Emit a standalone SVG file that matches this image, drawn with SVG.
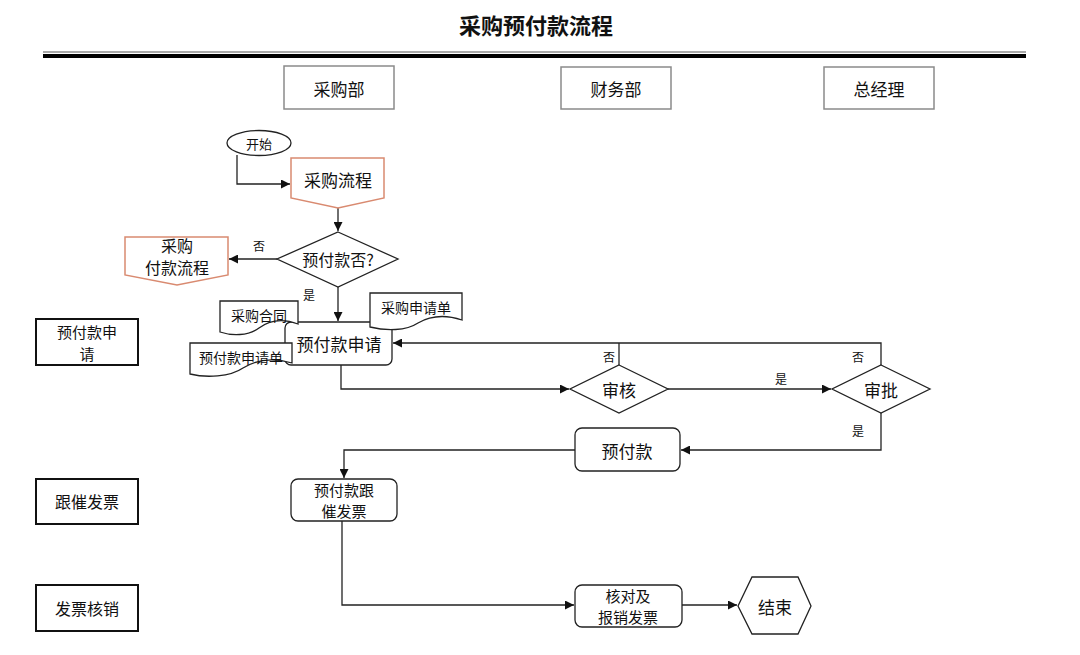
<svg xmlns="http://www.w3.org/2000/svg" width="1080" height="655" viewBox="0 0 1080 655">
<style>
text{font-family:"Noto Sans CJK SC","Noto Sans",sans-serif;fill:#111;text-anchor:middle;dominant-baseline:central}
.hdr{fill:#fff;stroke:#8a8a8a;stroke-width:1.5}
.lane{fill:#fff;stroke:#111;stroke-width:2}
.shp{fill:#fff;stroke:#222;stroke-width:1.3}
.org{fill:#fff;stroke:#d98a70;stroke-width:1.5}
.con{fill:none;stroke:#222;stroke-width:1.3}
.t17{font-size:17px}
.t16{font-size:16px}
.t15{font-size:15px}
.t14{font-size:14px}
.t13{font-size:13px}
.lbl{font-size:12px}
</style>
<defs>
<marker id="ah" viewBox="0 0 10 10" refX="10" refY="5" markerWidth="9" markerHeight="9" markerUnits="userSpaceOnUse" orient="auto">
<path d="M0,0 L10,5 L0,10 Z" fill="#111"/>
</marker>
</defs>
<rect width="1080" height="655" fill="#fff"/>
<g id="title">
<text x="536" y="24" style="font-size:22px;font-weight:bold">采购预付款流程</text>
<line x1="43" y1="52" x2="1026" y2="52" stroke="#555" stroke-width="1.2"/>
<line x1="43" y1="56" x2="1026" y2="56" stroke="#000" stroke-width="4"/>
</g>
<g id="hdr-caigou"><rect class="hdr" x="284" y="66" width="110" height="43"/><text class="t17" x="339" y="88">采购部</text></g>
<g id="hdr-caiwu"><rect class="hdr" x="561" y="67" width="110" height="42"/><text class="t17" x="616" y="88">财务部</text></g>
<g id="hdr-zjl"><rect class="hdr" x="824" y="67" width="110" height="42"/><text class="t17" x="879" y="88">总经理</text></g>
<g id="lane1"><rect class="lane" x="36" y="319" width="102" height="46"/><text class="t15" x="87" y="331">预付款申</text><text class="t15" x="87" y="353">请</text></g>
<g id="lane2"><rect class="lane" x="36" y="479" width="102" height="45"/><text class="t16" x="87" y="501">跟催发票</text></g>
<g id="lane3"><rect class="lane" x="36" y="585" width="102" height="46"/><text class="t16" x="87" y="608">发票核销</text></g>
<g id="connectors">
<path class="con" d="M237,155 V184 H290" marker-end="url(#ah)"/>
<path class="con" d="M338,208 V231" marker-end="url(#ah)"/>
<path class="con" d="M277,259 H229" marker-end="url(#ah)"/>
<path class="con" d="M338,287 V321" marker-end="url(#ah)"/>
<path class="con" d="M341,365 V389 H569" marker-end="url(#ah)"/>
<path class="con" d="M668,389 H831" marker-end="url(#ah)"/>
<path class="con" d="M619,365 V343"/>
<path class="con" d="M881,365 V343 H393" marker-end="url(#ah)"/>
<path class="con" d="M881,413 V450 H681" marker-end="url(#ah)"/>
<path class="con" d="M575,450 H344 V478" marker-end="url(#ah)"/>
<path class="con" d="M342,521 V605 H574" marker-end="url(#ah)"/>
<path class="con" d="M682,605 H737" marker-end="url(#ah)"/>
<text class="lbl" x="259" y="245">否</text>
<text class="lbl" x="309" y="294">是</text>
<text class="lbl" x="609" y="356">否</text>
<text class="lbl" x="858" y="356">否</text>
<text class="lbl" x="781" y="378">是</text>
<text class="lbl" x="858" y="430">是</text>
</g>
<g id="start"><ellipse class="shp" cx="259" cy="143" rx="32" ry="12.5"/><text class="t13" x="259" y="143">开始</text></g>
<g id="caigouliucheng"><path class="org" d="M291,158 H384 V198 L338,208 L291,198 Z"/><text class="t17" x="338" y="179">采购流程</text></g>
<g id="yufukuanfou"><path class="shp" d="M338,232 L398,259 L338,287 L277,259 Z"/><text class="t16" x="338" y="259">预付款否?</text></g>
<g id="caigoufukuan"><path class="org" d="M125,237 H228 V275 L177,285 L125,275 Z"/><text class="t16" x="177" y="245">采购</text><text class="t16" x="177" y="267">付款流程</text></g>
<g id="yufukuanshenqing">
<rect class="shp" x="285" y="322" width="107" height="43" rx="6"/>
<text class="t17" x="339" y="343">预付款申请</text>
</g>
<g id="doc-hetong"><path class="shp" d="M220,301 H298 V324 C282,318 270,320 259,328 C248,336 232,336 220,332 Z"/><text class="t14" x="259" y="315">采购合同</text></g>
<g id="doc-shenqingdan"><path class="shp" d="M370,293 H462 V320 C444,314 430,316 418,323 C406,331 386,331 370,327 Z"/><text class="t14" x="416" y="307">采购申请单</text></g>
<g id="doc-yufudan"><path class="shp" d="M190,343 H292 V363 C272,357 256,360 243,368 C230,377 206,378 190,374 Z"/><text class="t14" x="241" y="357">预付款申请单</text></g>
<g id="shenhe"><path class="shp" d="M619,365 L668,389 L619,413 L570,389 Z"/><text class="t17" x="619" y="389">审核</text></g>
<g id="shenpi"><path class="shp" d="M881,365 L930,389 L881,413 L832,389 Z"/><text class="t17" x="881" y="389">审批</text></g>
<g id="yufukuan"><rect class="shp" x="575" y="428" width="105" height="43" rx="7"/><text class="t17" x="627" y="450">预付款</text></g>
<g id="gencui"><rect class="shp" x="291" y="479" width="106" height="42" rx="7"/><text class="t15" x="344" y="489">预付款跟</text><text class="t15" x="344" y="510">催发票</text></g>
<g id="hedui"><rect class="shp" x="575" y="585" width="107" height="42" rx="7"/><text class="t15" x="628" y="595">核对及</text><text class="t15" x="628" y="616">报销发票</text></g>
<g id="end"><path class="shp" d="M738,606 L752,577 H798 L811,606 L798,634 H752 Z"/><text class="t17" x="775" y="606">结束</text></g>
</svg>
